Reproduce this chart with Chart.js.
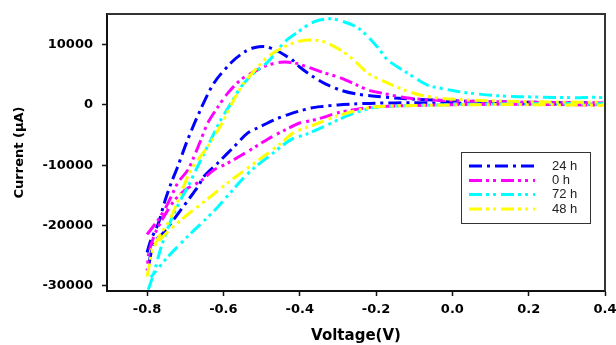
<!DOCTYPE html>
<html>
<head>
<meta charset="utf-8">
<script src="https://cdn.jsdelivr.net/npm/chart.js@4/dist/chart.umd.min.js"></script>
<style>
html,body{margin:0;padding:0;background:#fff;}
canvas{display:block;}
</style>
</head>
<body>
<canvas id="c" width="616" height="345"></canvas>
<script>
// ---- Data (voltage in V, current in µA) ----
const seriesLabels = ['24 h', '0 h', '72 h', '48 h'];

// 24 h
const volt24Fwd = [-0.80,-0.79,-0.77,-0.755,-0.737,-0.72,-0.695,-0.66,-0.625,-0.58,-0.545,-0.52,-0.49,-0.46,-0.44,-0.42,-0.40,-0.37,-0.33,-0.29,-0.25,-0.21,-0.14,-0.05,0.05,0.15,0.25,0.35,0.40];
const curr24Fwd = [-24500,-22400,-19600,-16300,-13000,-10300,-6000,-800,3600,7000,8800,9500,9700,9000,8300,7500,6300,4900,3400,2400,1800,1500,1100,800,600,500,400,350,300];
const volt24Rev = [0.40,0.30,0.20,0.10,0.0,-0.10,-0.20,-0.26,-0.30,-0.34,-0.37,-0.40,-0.43,-0.46,-0.484,-0.51,-0.536,-0.573,-0.614,-0.65,-0.667,-0.69,-0.711,-0.737,-0.758,-0.782,-0.797];
const curr24Rev = [100,150,200,250,300,350,300,150,0,-250,-500,-1000,-1600,-2300,-3000,-3800,-4650,-7000,-9600,-11800,-13600,-15600,-17400,-19600,-21300,-22900,-27000];

// 0 h
const volt0Fwd = [-0.80,-0.77,-0.745,-0.719,-0.693,-0.677,-0.659,-0.641,-0.614,-0.588,-0.554,-0.52,-0.484,-0.45,-0.416,-0.379,-0.34,-0.293,-0.25,-0.222,-0.188,-0.118,-0.05,0.05,0.15,0.25,0.35,0.40];
const curr0Fwd = [-21500,-19000,-16300,-12900,-10800,-8600,-5800,-3000,-300,2000,4200,5500,6600,7100,7000,6300,5400,4500,3300,2500,2000,1150,800,600,500,400,350,300];
const volt0Rev = [0.40,0.30,0.20,0.10,0.0,-0.10,-0.20,-0.25,-0.30,-0.34,-0.37,-0.40,-0.44,-0.484,-0.52,-0.554,-0.59,-0.625,-0.659,-0.70,-0.73,-0.76,-0.78,-0.795,-0.80];
const curr0Rev = [0,50,100,100,50,-100,-300,-700,-1300,-2100,-2600,-3000,-4200,-5700,-7100,-8400,-9700,-10800,-12600,-14100,-16000,-19000,-21500,-24500,-27500];

// 72 h
const volt72Fwd = [-0.797,-0.782,-0.763,-0.737,-0.71,-0.693,-0.672,-0.633,-0.607,-0.58,-0.554,-0.52,-0.484,-0.442,-0.405,-0.363,-0.319,-0.275,-0.241,-0.196,-0.17,-0.118,-0.065,0.0,0.04,0.125,0.23,0.32,0.40];
const curr72Fwd = [-30700,-27900,-23600,-19100,-15500,-13600,-10800,-5800,-2500,300,3000,5300,7100,10300,12100,13800,14300,13600,12500,9600,7500,5300,3300,2400,2000,1500,1300,1200,1150];
const volt72Rev = [0.40,0.30,0.20,0.10,0.0,-0.10,-0.20,-0.25,-0.30,-0.34,-0.38,-0.424,-0.476,-0.52,-0.554,-0.614,-0.65,-0.685,-0.745,-0.79];
const curr72Rev = [300,250,200,150,50,-100,-400,-1200,-2500,-3700,-4800,-5800,-8300,-10500,-12600,-16900,-19200,-21300,-25200,-28600];

// 48 h
const volt48Fwd = [-0.80,-0.785,-0.765,-0.74,-0.711,-0.685,-0.642,-0.605,-0.573,-0.546,-0.51,-0.484,-0.442,-0.405,-0.379,-0.337,-0.293,-0.259,-0.222,-0.17,-0.128,-0.084,-0.039,0.05,0.15,0.25,0.35,0.40];
const curr48Fwd = [-28500,-24000,-21500,-19000,-14600,-10800,-7000,-3200,800,3650,6300,8000,9600,10500,10800,10500,9100,7500,5300,3650,2500,1660,1160,800,600,500,450,400];
const volt48Rev = [0.40,0.30,0.20,0.10,0.0,-0.10,-0.20,-0.25,-0.305,-0.35,-0.38,-0.416,-0.45,-0.50,-0.554,-0.60,-0.641,-0.68,-0.711,-0.75,-0.79];
const curr48Rev = [0,0,50,50,0,-100,-300,-900,-1900,-3000,-3700,-4600,-6400,-8800,-11300,-13500,-15600,-17500,-19100,-21300,-24100];

// axis ticks
const xTickValues = [-0.8,-0.6,-0.4,-0.2,0.0,0.2,0.4];
const yTickValues = [-30000,-20000,-10000,0,10000];

function loop(vf, cf, vr, cr) {
  const pts = [];
  vf.forEach((v, k) => pts.push({x: v, y: cf[k]}));
  vr.forEach((v, k) => pts.push({x: v, y: cr[k]}));
  return pts;
}

const dashA = [13,5,3,5];
const dashB = [13,4,3,4,3,5];

const datasets = [
  {label: seriesLabels[0], data: loop(volt24Fwd, curr24Fwd, volt24Rev, curr24Rev), borderColor: '#0000ff', borderDash: dashA, order: 3},
  {label: seriesLabels[1], data: loop(volt0Fwd, curr0Fwd, volt0Rev, curr0Rev), borderColor: '#ff00ff', borderDash: dashB, order: 2},
  {label: seriesLabels[2], data: loop(volt72Fwd, curr72Fwd, volt72Rev, curr72Rev), borderColor: '#00ffff', borderDash: dashB, order: 1},
  {label: seriesLabels[3], data: loop(volt48Fwd, curr48Fwd, volt48Rev, curr48Rev), borderColor: '#ffff00', borderDash: dashB, order: 0}
].map(d => Object.assign(d, {borderWidth: 3, pointRadius: 0, tension: 0.3, fill: false, borderCapStyle: 'butt'}));

const boxPlugin = {
  id: 'boxAndLegend',
  beforeDraw(chart) {
    const ctx = chart.ctx;
    ctx.save();
    ctx.fillStyle = '#fff';
    ctx.fillRect(0, 0, chart.width, chart.height);
    ctx.restore();
  },
  afterDraw(chart) {
    const ctx = chart.ctx;
    const a = chart.chartArea;
    ctx.save();
    // top and right frame
    ctx.strokeStyle = '#333';
    ctx.lineWidth = 2;
    ctx.beginPath();
    ctx.moveTo(a.left, a.top);
    ctx.lineTo(a.right, a.top);
    ctx.lineTo(a.right, a.bottom);
    ctx.stroke();
    // legend
    const lx = 461, ly = 152, lw = 129, lh = 71;
    ctx.fillStyle = '#fff';
    ctx.fillRect(lx, ly, lw, lh);
    ctx.strokeStyle = '#333';
    ctx.lineWidth = 1;
    ctx.strokeRect(lx + 0.5, ly + 0.5, lw, lh);
    const rows = [166, 180.5, 194.5, 209];
    chart.data.datasets.forEach((ds, k) => {
      const y = rows[k];
      ctx.strokeStyle = ds.borderColor;
      ctx.lineWidth = 3;
      ctx.lineCap = 'butt';
      ctx.setLineDash(ds.borderDash);
      ctx.beginPath();
      ctx.moveTo(469, y);
      ctx.lineTo(535, y);
      ctx.stroke();
      ctx.setLineDash([]);
      ctx.fillStyle = '#222';
      ctx.font = '13px "Liberation Sans", Arial, sans-serif';
      ctx.textBaseline = 'middle';
      ctx.textAlign = 'left';
      ctx.fillText(ds.label, 552, y);
    });
    ctx.restore();
  }
};

const tickFont = {family: '"DejaVu Sans", sans-serif', size: 13, weight: 'bold'};

new Chart(document.getElementById('c'), {
  type: 'line',
  data: {datasets},
  plugins: [boxPlugin],
  options: {
    responsive: false,
    animation: false,
    devicePixelRatio: 1,
    layout: {padding: {top: 14, right: 11, left: 0, bottom: 0}},
    plugins: {legend: {display: false}, tooltip: {enabled: false}},
    scales: {
      x: {
        type: 'linear',
        min: -0.905,
        max: 0.4,
        afterFit(s) { s.height = 54; s.paddingLeft = 0; s.paddingRight = 0; },
        afterBuildTicks(s) { s.ticks = xTickValues.map(v => ({value: v})); },
        ticks: {
          font: tickFont, color: '#000', padding: 6,
          callback: v => (Math.abs(v) < 1e-9 ? 0 : v).toFixed(1)
        },
        grid: {drawOnChartArea: false, drawTicks: true, tickLength: 5, tickColor: '#111', tickWidth: 1.5},
        border: {display: true, color: '#111', width: 2},
        title: {display: true, text: 'Voltage(V)', color: '#000',
          font: {family: '"DejaVu Sans", sans-serif', size: 15, weight: 'bold'}, padding: {top: 0, bottom: 0}}
      },
      y: {
        type: 'linear',
        min: -30900,
        max: 15100,
        afterFit(s) { s.width = 107; s.paddingTop = 0; s.paddingBottom = 0; },
        afterBuildTicks(s) { s.ticks = yTickValues.map(v => ({value: v})); },
        ticks: {
          font: tickFont, color: '#000', padding: 9,
          callback: v => String(v)
        },
        grid: {drawOnChartArea: false, drawTicks: true, tickLength: 5, tickColor: '#111', tickWidth: 1.5},
        border: {display: true, color: '#111', width: 2},
        title: {display: true, text: 'Current (µA)', color: '#000',
          font: {family: '"DejaVu Sans", sans-serif', size: 13, weight: 'bold'}, padding: {top: 12, bottom: 0}}
      }
    }
  }
});
</script>
</body>
</html>
